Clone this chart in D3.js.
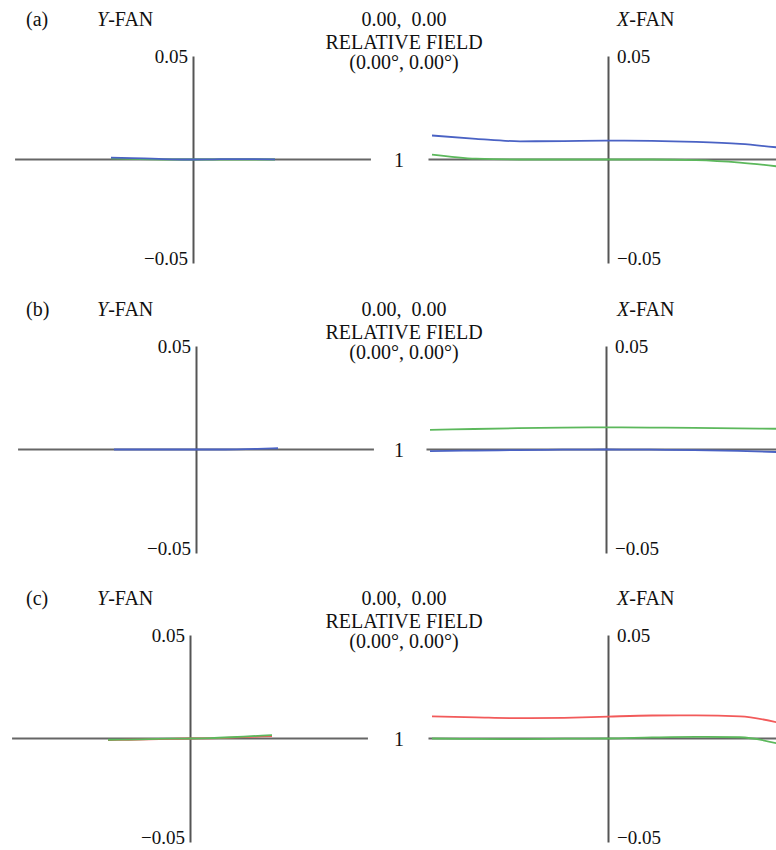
<!DOCTYPE html>
<html>
<head>
<meta charset="utf-8">
<script src="https://cdn.jsdelivr.net/npm/d3@7"></script>
<style>
  body { margin: 0; background: #fff; }
  svg text { font-family: "Liberation Serif", "DejaVu Serif", serif; font-size: 20px; fill: #111; }
</style>
</head>
<body>
<div id="chart"></div>
<script>
// Ray fan plots, three configurations (a), (b), (c).
// Each panel: Y-FAN (left) and X-FAN (right), relative field 0.00, 0.00.

const panelLabels = ["(a)", "(b)", "(c)"];
const fieldLines = ["0.00,  0.00", "RELATIVE FIELD", "(0.00\u00b0, 0.00\u00b0)"];
const yTickValues = [0.05, -0.05];

// normalized pupil coordinate
const pupil = [-1, -0.75, -0.5, -0.25, 0, 0.25, 0.5, 0.75, 1];

// (a)
const aYBlue  = [0.0009, 0.0007, 0.0004, 0.0001, 0, 0.0001, 0.0002, 0.0002, 0.0001];
const aYGreen = [0.0005, 0.0003, 0.0001, 0, 0, 0, 0, 0, 0];
const aXBlue  = [0.0116, 0.0100, 0.0088, 0.0089, 0.0091, 0.0090, 0.0085, 0.0075, 0.0055];
const aXGreen = [0.0024, 0.0004, 0, 0, 0, 0, -0.0003, -0.0015, -0.0037];

// (b)
const bYBlue  = [0, 0, 0, 0, 0, 0, 0.0001, 0.0003, 0.0006];
const bXGreen = [0.0095, 0.0099, 0.0103, 0.0106, 0.0107, 0.0106, 0.0104, 0.0102, 0.0100];
const bXBlue  = [-0.0008, -0.0005, -0.0003, -0.0001, 0, -0.0001, -0.0003, -0.0007, -0.0013];

// (c)
const cYRed   = [-0.0008, -0.0006, -0.0004, -0.0002, 0, 0.0001, 0.0004, 0.0008, 0.0012];
const cYGreen = [-0.0006, -0.0005, -0.0003, -0.0001, 0, 0.0002, 0.0006, 0.0011, 0.0016];
const cXRed   = [0.0107, 0.0102, 0.0098, 0.0100, 0.0106, 0.0111, 0.0112, 0.0107, 0.0070];
const cXGreen = [0, -0.0002, -0.0003, -0.0001, 0, 0.0005, 0.0008, 0.0006, -0.0032];

const colors = { blue: "#4a62c4", green: "#5cb85c", red: "#f25a5a" };

const panels = [
  { label: panelLabels[0], top: 0, yCx: 193, xCx: 608,
    yFan: [["green", aYGreen], ["blue", aYBlue]],
    xFan: [["green", aXGreen], ["blue", aXBlue]] },
  { label: panelLabels[1], top: 290, yCx: 196, xCx: 606,
    yFan: [["blue", bYBlue]],
    xFan: [["green", bXGreen], ["blue", bXBlue]] },
  { label: panelLabels[2], top: 579, yCx: 190, xCx: 608,
    yFan: [["red", cYRed], ["green", cYGreen]],
    xFan: [["red", cXRed], ["green", cXGreen]] }
];

const width = 776, height = 850;
const fontStack = "'Liberation Serif', 'DejaVu Serif', serif";

const svg = d3.select("#chart").append("svg")
  .attr("width", width)
  .attr("height", height);

const yScale = d3.scaleLinear().domain([-0.05, 0.05]).range([263, 56]);

panels.forEach(p => {
  const g = svg.append("g").attr("transform", `translate(0,${p.top})`);

  // headers
  g.append("text").attr("x", 26).attr("y", 26).text(p.label);

  const yfanT = g.append("text").attr("x", 97).attr("y", 26);
  yfanT.append("tspan").attr("font-style", "italic").text("Y");
  yfanT.append("tspan").text("-FAN");

  const xfanT = g.append("text").attr("x", 617).attr("y", 26);
  xfanT.append("tspan").attr("font-style", "italic").text("X");
  xfanT.append("tspan").text("-FAN");

  g.selectAll("text.field")
    .data(fieldLines)
    .join("text")
    .attr("class", "field")
    .attr("x", 404)
    .attr("y", (d, i) => [26, 49, 69][i])
    .attr("text-anchor", "middle")
    .style("white-space", "pre")
    .text(d => d);

  g.append("text").attr("x", 399).attr("y", yScale(0) + 7)
    .attr("text-anchor", "middle").text("1");

  // scales for the two fans
  const xY = d3.scaleLinear().domain([-1, 1]).range([p.yCx - 82, p.yCx + 82]);
  const xX = d3.scaleLinear().domain([-1, 1]).range([p.xCx - 176, p.xCx + 176]);

  // horizontal axes
  g.append("line")
    .attr("x1", xY(-2.17)).attr("x2", xY(2.17))
    .attr("y1", yScale(0)).attr("y2", yScale(0))
    .attr("stroke", "#666").attr("stroke-width", 2);
  g.append("line")
    .attr("x1", xX(-1.02)).attr("x2", xX(1.2))
    .attr("y1", yScale(0)).attr("y2", yScale(0))
    .attr("stroke", "#666").attr("stroke-width", 2);

  // vertical axes
  const leftAxis = g.append("g")
    .attr("transform", `translate(${p.yCx},0)`)
    .call(d3.axisLeft(yScale).tickValues(yTickValues).tickSize(0).tickSizeOuter(0)
      .tickPadding(5).tickFormat(d3.format(".2f")));
  const rightAxis = g.append("g")
    .attr("transform", `translate(${p.xCx},0)`)
    .call(d3.axisRight(yScale).tickValues(yTickValues).tickSize(0).tickSizeOuter(0)
      .tickPadding(9).tickFormat(d3.format(".2f")));

  [leftAxis, rightAxis].forEach(ax => {
    ax.select(".domain").attr("stroke", "#555").attr("stroke-width", 2);
    ax.selectAll("text")
      .attr("font-family", null)
      .attr("font-size", null)
      .style("font-family", fontStack)
      .style("font-size", "19px")
      .attr("fill", "#111")
      // bottom label sits with its baseline just below the axis end
      .attr("dy", d => (d < 0 ? "0.1em" : "0.32em"));
  });

  // fan curves
  const lineY = d3.line().x((d, i) => xY(pupil[i])).y(d => yScale(d)).curve(d3.curveMonotoneX);
  const lineX = d3.line().x((d, i) => xX(pupil[i])).y(d => yScale(d)).curve(d3.curveMonotoneX);

  p.yFan.forEach(([c, vals]) => {
    g.append("path").attr("d", lineY(vals)).attr("fill", "none")
      .attr("stroke", colors[c]).attr("stroke-width", 1.8);
  });
  p.xFan.forEach(([c, vals]) => {
    g.append("path").attr("d", lineX(vals)).attr("fill", "none")
      .attr("stroke", colors[c]).attr("stroke-width", 1.8);
  });
});
</script>
</body>
</html>
